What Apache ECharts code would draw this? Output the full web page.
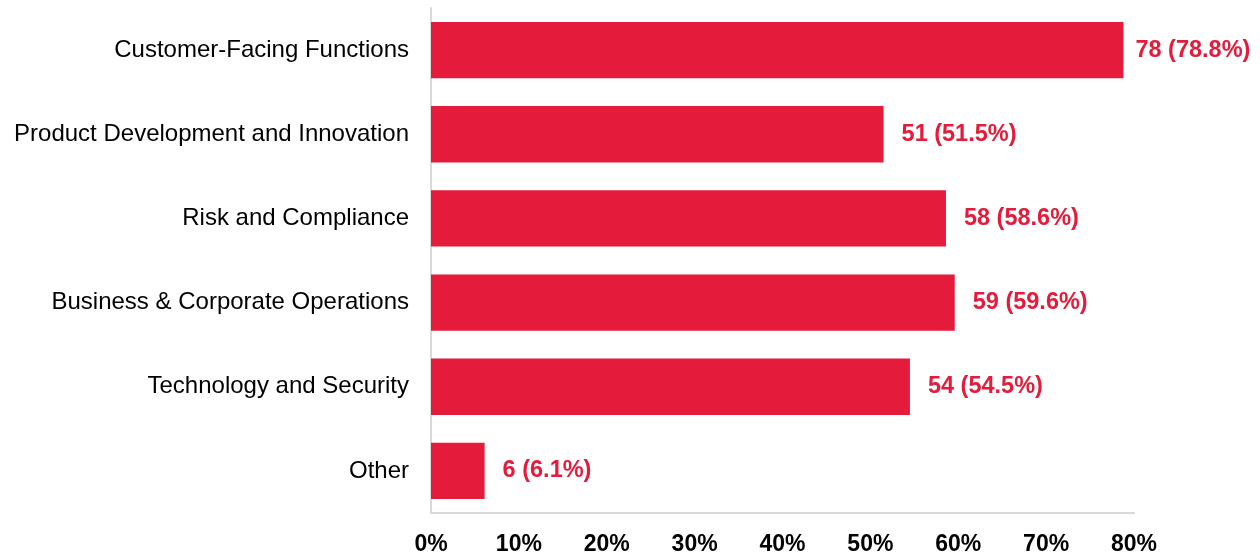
<!DOCTYPE html>
<html>
<head>
<meta charset="utf-8">
<script src="https://cdn.jsdelivr.net/npm/echarts@6/dist/echarts.min.js"></script>
<style>
  html, body { margin: 0; padding: 0; background: #fff; }
  #chart { width: 1260px; height: 552px; }
</style>
</head>
<body>
<div id="chart"></div>
<script>
// Business areas, listed top to bottom
const categories = [
  'Customer-Facing Functions',
  'Product Development and Innovation',
  'Risk and Compliance',
  'Business & Corporate Operations',
  'Technology and Security',
  'Other'
];
// Respondent counts per area
const counts = [78, 51, 58, 59, 54, 6];
// Share of respondents, percent
const shares = [78.8, 51.5, 58.6, 59.6, 54.5, 6.1];
// Percent axis
const axisMax = 80;
const axisStep = 10;

const RED = '#E41B3A';
const FONT = '"Liberation Sans", Arial, sans-serif';

const chart = echarts.init(document.getElementById('chart'), null, { renderer: 'canvas' });

// The longest bar sits close to the right edge, so its label is tucked in a little
const barData = shares.map((v, i) => ({
  value: v,
  label: { distance: v >= axisMax - 2 ? 12 : 18 }
}));

chart.setOption({
  animation: false,
  grid: {
    left: 431, right: 126, top: 8, bottom: 39,
    containLabel: false,
    outerBoundsMode: 'none'
  },
  xAxis: {
    type: 'value',
    min: 0,
    max: axisMax,
    interval: axisStep,
    axisLine: { show: true, lineStyle: { color: '#d9d9d9', width: 2 } },
    axisTick: { show: false },
    splitLine: { show: false },
    axisLabel: {
      formatter: v => v + '%',
      color: '#000',
      fontFamily: FONT,
      fontSize: 23,
      fontWeight: 'bold',
      margin: 20
    }
  },
  yAxis: {
    type: 'category',
    data: categories,
    inverse: true,
    axisLine: { show: true, lineStyle: { color: '#d9d9d9', width: 2 } },
    axisTick: { show: false },
    axisLabel: {
      color: '#000',
      fontFamily: FONT,
      fontSize: 24,
      margin: 22
    }
  },
  series: [{
    type: 'bar',
    data: barData,
    barCategoryGap: '33%',
    itemStyle: { color: RED },
    label: {
      show: true,
      position: 'right',
      color: RED,
      fontFamily: FONT,
      fontSize: 23.5,
      fontWeight: 'bold',
      formatter: p => counts[p.dataIndex] + ' (' + shares[p.dataIndex].toFixed(1) + '%)'
    }
  }]
});
</script>
</body>
</html>
